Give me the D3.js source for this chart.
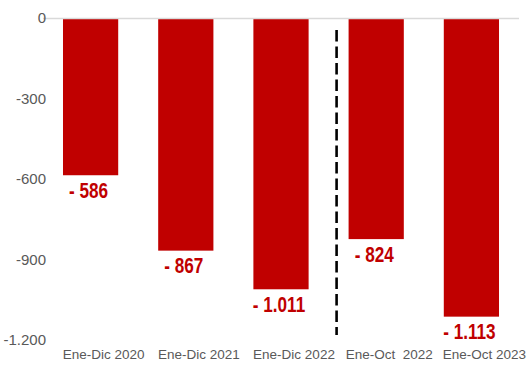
<!DOCTYPE html>
<html>
<head>
<meta charset="utf-8">
<script src="https://cdn.jsdelivr.net/npm/d3@7"></script>
<style>
  body { margin: 0; background: #fff; }
  svg { display: block; }
</style>
</head>
<body>
<div id="chart"></div>
<script>
const categories = ["Ene-Dic 2020", "Ene-Dic 2021", "Ene-Dic 2022", "Ene-Oct  2022", "Ene-Oct 2023"];
const values = [-586, -867, -1011, -824, -1113];
const valueLabels = ["- 586", "- 867", "- 1.011", "- 824", "- 1.113"];
const yTicks = [0, -300, -600, -900, -1200];
const yTickLabels = ["0", "-300", "-600", "-900", "-1.200"];

const width = 527;
const height = 365;
const barColor = "#c00000";
const textGray = "#595959";

const scaleX = d3
  .scaleBand()
  .domain(categories)
  .range([43, 519])
  .paddingInner(0.42)
  .paddingOuter(0.21);

const scaleY = d3.scaleLinear().domain([-1200, 0]).range([340, 18]);

const svg = d3
  .select("#chart")
  .append("svg")
  .attr("width", width)
  .attr("height", height);

// bars
svg
  .selectAll("rect.bar")
  .data(values)
  .enter()
  .append("rect")
  .attr("class", "bar")
  .attr("x", (d, i) => scaleX(categories[i]))
  .attr("y", scaleY(0))
  .attr("width", scaleX.bandwidth())
  .attr("height", (d) => scaleY(d) - scaleY(0))
  .attr("fill", barColor);

// zero line
svg
  .append("line")
  .attr("x1", 43)
  .attr("x2", 519)
  .attr("y1", scaleY(0) + 0.5)
  .attr("y2", scaleY(0) + 0.5)
  .attr("stroke", "#d9d9d9")
  .attr("stroke-width", 1.5);

// value labels (condensed bold, squeezed horizontally)
svg
  .selectAll("text.value")
  .data(values)
  .enter()
  .append("text")
  .attr("class", "value")
  .attr(
    "transform",
    (d, i) =>
      `translate(${scaleX(categories[i]) + scaleX.bandwidth() / 2 - 2}, ${scaleY(d) + 22.5}) scale(0.78, 1)`
  )
  .attr("text-anchor", "middle")
  .attr("fill", barColor)
  .style("font-family", "'Liberation Sans', Arial, sans-serif")
  .style("font-weight", "bold")
  .style("font-size", "22px")
  .text((d, i) => valueLabels[i]);

// y axis labels
svg
  .selectAll("text.ytick")
  .data(yTicks)
  .enter()
  .append("text")
  .attr("class", "ytick")
  .attr("x", 46)
  .attr("y", (d) => scaleY(d))
  .attr("dy", "0.35em")
  .attr("text-anchor", "end")
  .attr("fill", textGray)
  .style("font-family", "'Liberation Sans', Arial, sans-serif")
  .style("font-size", "15px")
  .text((d, i) => yTickLabels[i]);

// category labels
svg
  .selectAll("text.cat")
  .data(categories)
  .enter()
  .append("text")
  .attr("class", "cat")
  .attr("x", (d) => scaleX(d) + scaleX.bandwidth() / 2 + 13)
  .attr("y", 359)
  .attr("text-anchor", "middle")
  .attr("fill", textGray)
  .style("font-family", "'Liberation Sans', Arial, sans-serif")
  .style("font-size", "13.5px")
  .style("white-space", "pre")
  .text((d) => d);

// dashed separator between the full-year and Jan-Oct bars
const sepX = scaleX(categories[3]) - 12;
svg
  .append("line")
  .attr("x1", sepX)
  .attr("x2", sepX)
  .attr("y1", 30)
  .attr("y2", 335)
  .attr("stroke", "#000")
  .attr("stroke-width", 2.6)
  .attr("stroke-dasharray", "11.5,5");
</script>
</body>
</html>
